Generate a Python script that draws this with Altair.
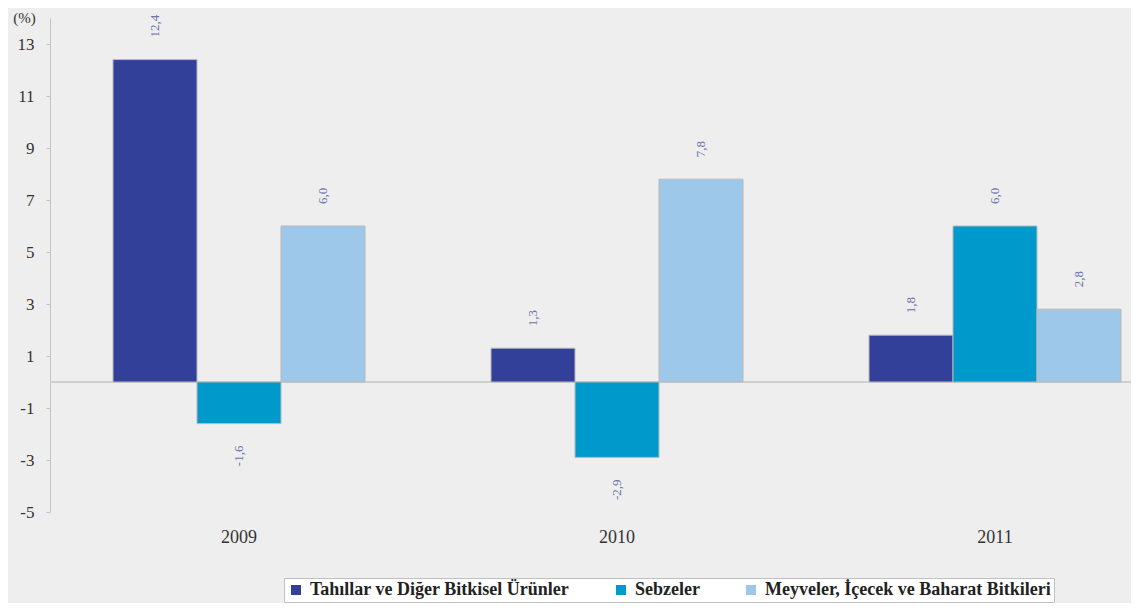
import altair as alt
import pandas as pd

years = ["2009", "2010", "2011"]
series = ["Tahıllar ve Diğer Bitkisel Ürünler", "Sebzeler", "Meyveler, İçecek ve Baharat Bitkileri"]
tahil = [12.4, 1.3, 1.8]
sebze = [-1.6, -2.9, 6.0]
meyve = [6.0, 7.8, 2.8]
colors = ["#33409a", "#0099cc", "#9ec8ea"]
y_ticks = [13, 11, 9, 7, 5, 3, 1, -1, -3, -5]

rows = []
for i, yr in enumerate(years):
    for s, vals in zip(series, [tahil, sebze, meyve]):
        rows.append({"year": yr, "series": s, "value": vals[i]})
df = pd.DataFrame(rows)

FONT = "Liberation Serif"

x_enc = alt.X("year:N", scale=alt.Scale(domain=years, range=[0, 1134], paddingInner=0, paddingOuter=0),
              axis=alt.Axis(title=None, domain=False, ticks=False, labelAngle=0, labelFont=FONT,
                            labelFontSize=18, labelColor="#333333", labelPadding=16))
xo_enc = alt.XOffset("series:N", scale=alt.Scale(domain=series, paddingInner=0, paddingOuter=0.75))
y_scale = alt.Scale(domain=[-5, 14], nice=False, zero=False)

base = alt.Chart(df)

bars = base.mark_bar(stroke="#b8b8b8", strokeWidth=1).encode(
    x=x_enc,
    xOffset=xo_enc,
    y=alt.Y("value:Q", scale=y_scale,
            axis=alt.Axis(values=y_ticks, grid=False, domainColor="#c4c4c4", tickColor="#c4c4c4",
                          tickSize=4, labelFont=FONT, labelFontSize=17, labelColor="#333333",
                          labelPadding=12, labelExpr="replace(datum.label, '\u2212', '-')",
                          title="(%)", titleAngle=0, titleFont=FONT,
                          titleFontSize=15, titleFontWeight="normal", titleColor="#333333",
                          titleX=-26, titleY=7, titleAlign="center", titleBaseline="bottom")),
    y2=alt.datum(0),
    color=alt.Color("series:N", scale=alt.Scale(domain=series, range=colors),
                    legend=alt.Legend(title=None, orient="none", direction="horizontal",
                                      legendX=234, legendY=560, fillColor="#ffffff",
                                      strokeColor="#c0c0c0", padding=3, symbolType="square",
                                      symbolSize=100, symbolStrokeWidth=0, labelFont=FONT,
                                      labelFontSize=18, labelFontWeight="bold",
                                      labelColor="#222222", columnPadding=42,
                                      labelLimit=0, labelOffset=5)),
)

zero = alt.Chart(pd.DataFrame({"z": [0]})).mark_rule(color="#cfcfcf", strokeWidth=2).encode(
    y=alt.Y("z:Q", scale=y_scale)
)

lab = base.transform_calculate(
    label="replace(replace(format(datum.value, '.1f'), '.', ','), '\u2212', '-')"
)
pos_labels = lab.transform_filter("datum.value >= 0").mark_text(
    angle=270, align="left", baseline="middle", dx=22, font=FONT, fontSize=13, color="#6b70b0"
).encode(x=x_enc, xOffset=xo_enc, y=alt.Y("value:Q", scale=y_scale), text="label:N")
neg_labels = lab.transform_filter("datum.value < 0").mark_text(
    angle=270, align="right", baseline="middle", dx=-22, font=FONT, fontSize=13, color="#6b70b0"
).encode(x=x_enc, xOffset=xo_enc, y=alt.Y("value:Q", scale=y_scale), text="label:N")

chart = alt.layer(zero, bars, pos_labels, neg_labels).properties(
    width=1081, height=494,
    autosize=alt.AutoSizeParams(type="none"),
    padding={"left": 42, "top": 10, "right": 0, "bottom": 91},
    background="#eeeeee",
).configure_view(stroke=None)

chart.save("out.html", embed_options={"renderer": "svg", "actions": False})
